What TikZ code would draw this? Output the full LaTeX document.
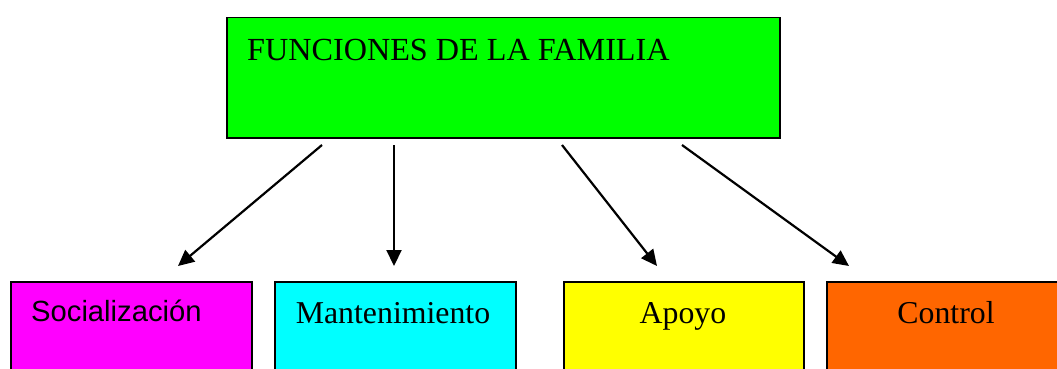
\documentclass[tikz,border=0pt]{standalone}
\usepackage{fontspec}
\setmainfont{Liberation Serif}
\newfontfamily\arialfont{Liberation Sans}
\usetikzlibrary{arrows.meta}
\definecolor{cgreen}{HTML}{00FF00}
\definecolor{cmagenta}{HTML}{FF00FF}
\definecolor{ccyan}{HTML}{00FFFF}
\definecolor{cyellow}{HTML}{FFFF00}
\definecolor{corange}{HTML}{FF6600}
\tikzset{
  boxstyle/.style={draw=black, line width=1.5pt, inner sep=0pt, anchor=north west},
  bigtext/.style={font=\fontsize{31.8}{38}\selectfont, inner sep=0pt, anchor=base},
  arrowstyle/.style={line width=2.2pt, -{Triangle[length=16pt, width=15pt]}}
}
\begin{document}
\begin{tikzpicture}[x=1pt, y=-1pt]
\useasboundingbox (0,0) rectangle (1057,369);
\clip (0,0) rectangle (1057,369);
% top box
\node[boxstyle, fill=cgreen, minimum width=553pt, minimum height=120pt] (top) at (226,17) {};
\node[bigtext, anchor=base west, font=\fontsize{32.2}{38}\selectfont] (title) at (247,60) {FUNCIONES DE LA FAMILIA};
% bottom boxes
\node[boxstyle, fill=cmagenta, minimum width=241pt, minimum height=120pt] (b1) at (10,281) {};
\node[boxstyle, fill=ccyan, minimum width=241pt, minimum height=120pt] (b2) at (274,281) {};
\node[boxstyle, fill=cyellow, minimum width=240pt, minimum height=120pt] (b3) at (563,281) {};
\node[boxstyle, fill=corange, minimum width=240pt, minimum height=120pt] (b4) at (826,281) {};
\node[inner sep=0pt, anchor=base west, font=\arialfont\fontsize{29.2}{35}\selectfont] (t1) at (31,321) {Socialización};
\node[bigtext] (t2) at (393,323) {Mantenimiento};
\node[bigtext] (t3) at (683,323) {Apoyo};
\node[bigtext] (t4) at (946,323) {Control};
% connector end points
\coordinate (s1) at (322,145);
\coordinate (s2) at (394,145);
\coordinate (s3) at (562,145);
\coordinate (s4) at (682,145);
\coordinate (e1) at (178,266);
\coordinate (e2) at (394,266);
\coordinate (e3) at (657,266);
\coordinate (e4) at (849,266);
\draw[arrowstyle] (s1) -- (e1);
\draw[arrowstyle] (s2) -- (e2);
\draw[arrowstyle] (s3) -- (e3);
\draw[arrowstyle] (s4) -- (e4);
\end{tikzpicture}
\end{document}
